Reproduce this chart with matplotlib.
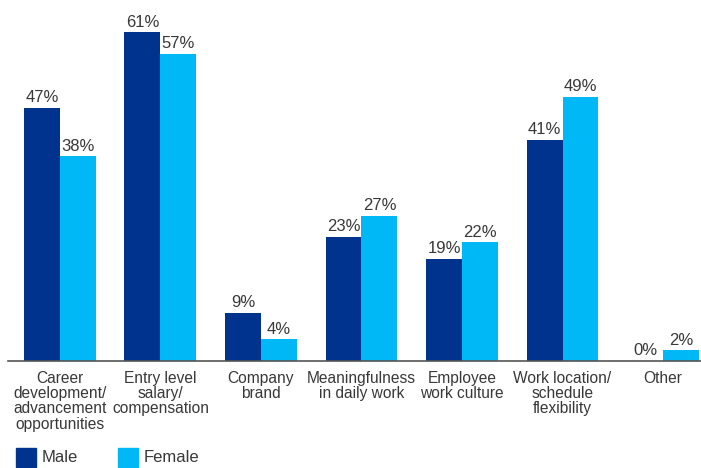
import matplotlib.pyplot as plt
import numpy as np
from matplotlib.patches import Rectangle

categories = ["Career\ndevelopment/\nadvancement\nopportunities",
              "Entry level\nsalary/\ncompensation",
              "Company\nbrand",
              "Meaningfulness\nin daily work",
              "Employee\nwork culture",
              "Work location/\nschedule\nflexibility",
              "Other"]
male = [47, 61, 9, 23, 19, 41, 0]
female = [38, 57, 4, 27, 22, 49, 2]

dark = "#00338D"
light = "#00B8F5"
text_col = "#383838"

plt.rcParams['font.family'] = ['Liberation Sans', 'DejaVu Sans']

fig = plt.figure(figsize=(7.01, 4.68), dpi=100)
ax = fig.add_axes([8 / 701, 107 / 468, 693 / 701, 361 / 468])

x = np.arange(len(categories))
w = 0.358
bm = ax.bar(x - w / 2, male, w, color=dark, label="Male")
bf = ax.bar(x + w / 2, female, w, color=light, label="Female")

for bars, vals in ((bm, male), (bf, female)):
    for b, v in zip(bars, vals):
        ax.text(b.get_x() + b.get_width() / 2, v + 0.5, f"{v}%",
                ha="center", va="bottom", fontsize=12, color=text_col)

ax.set_xlim(-0.517, 6.378)
ax.set_ylim(0, 67)
ax.set_yticks([])
ax.set_xticks(x)
ax.set_xticklabels(categories, fontsize=11.2, color=text_col, linespacing=1.03)
ax.tick_params(axis="x", length=0, pad=7)
for s in ("top", "right", "left"):
    ax.spines[s].set_visible(False)
ax.spines["bottom"].set_color("#555555")
ax.spines["bottom"].set_linewidth(1.2)

# legend drawn by hand at the lower left
for px, col, lab in ((16, dark, "Male"), (118, light, "Female")):
    fig.patches.append(Rectangle((px / 701, (468 - 467) / 468), 20 / 701, 19 / 468,
                                 transform=fig.transFigure, color=col))
    fig.text((px + 26) / 701, (468 - 458) / 468, lab, fontsize=12,
             color=text_col, va="center")

fig.savefig("out.png", dpi=100)
